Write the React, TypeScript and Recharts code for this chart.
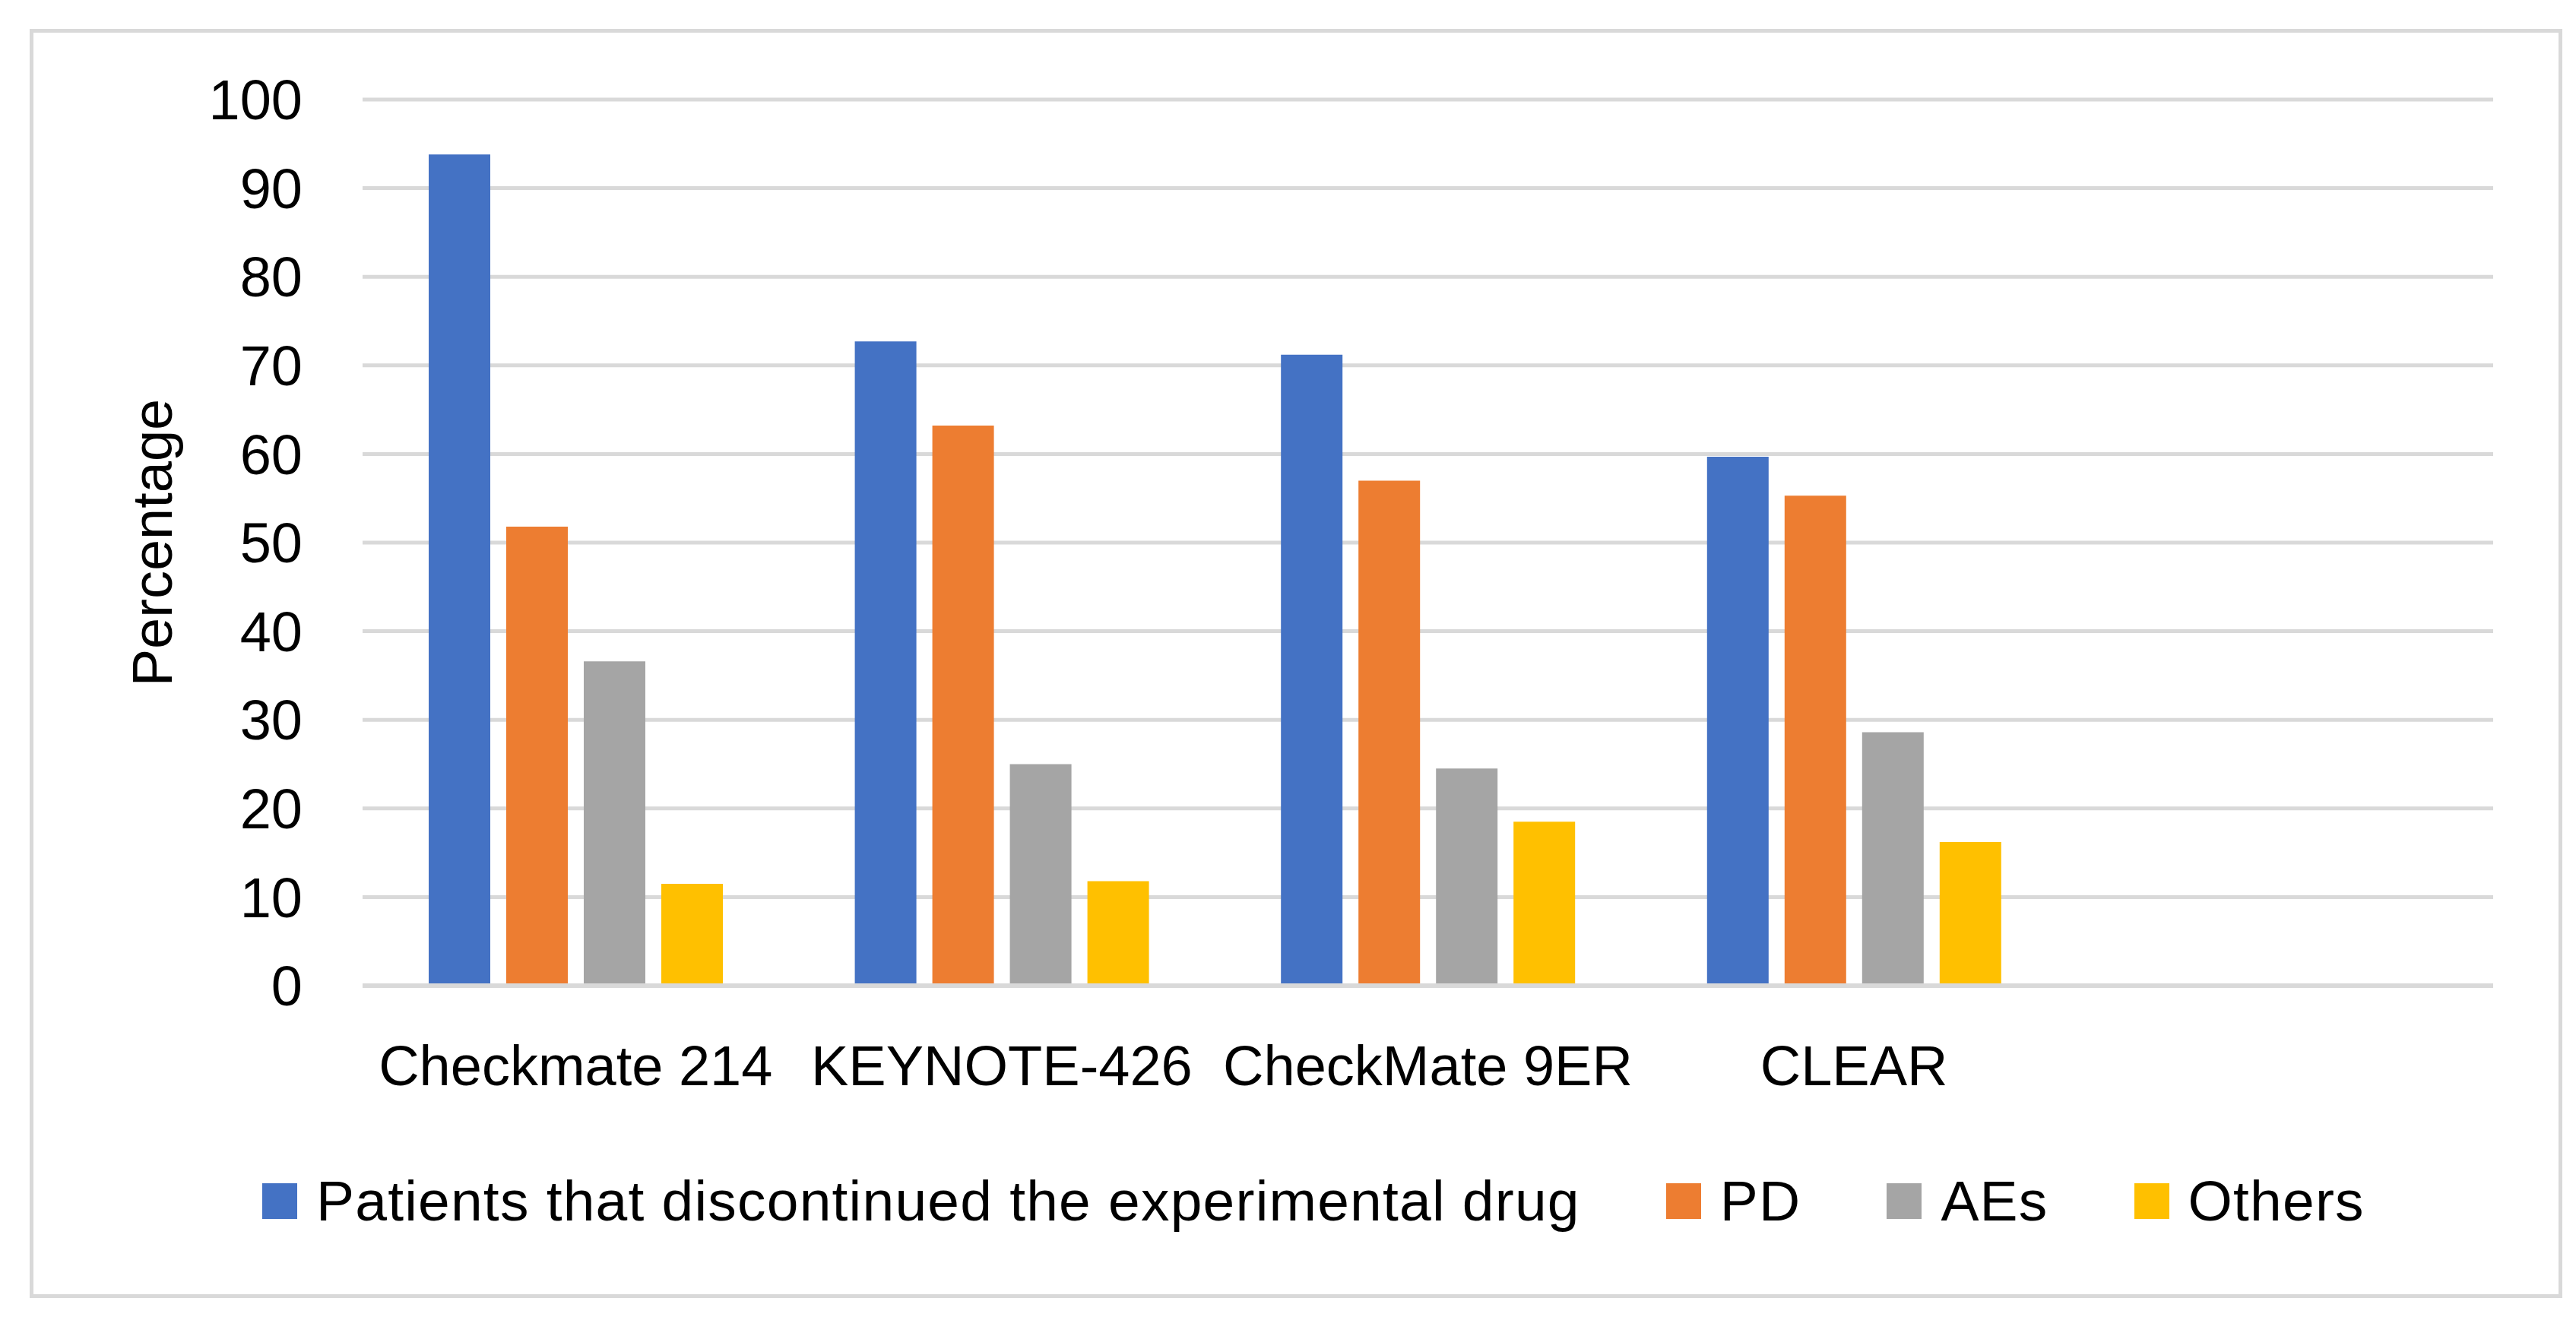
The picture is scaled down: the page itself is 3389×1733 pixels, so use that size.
import React from 'react';
import { BarChart, Bar, XAxis, YAxis, CartesianGrid, Legend } from 'recharts';

const FONT = '"Liberation Sans", Arial, sans-serif';

const categories = ['Checkmate 214', 'KEYNOTE-426', 'CheckMate 9ER', 'CLEAR', ''];
const discontinued = [93.8, 72.7, 71.2, 59.7, null];
const pd = [51.8, 63.2, 57.0, 55.3, null];
const aes = [36.6, 25.0, 24.5, 28.6, null];
const others = [11.5, 11.8, 18.5, 16.2, null];
const yTicks = [0, 10, 20, 30, 40, 50, 60, 70, 80, 90, 100];
const seriesNames = ['Patients that discontinued the experimental drug', 'PD', 'AEs', 'Others'];
const seriesColors = ['#4472C4', '#ED7D31', '#A5A5A5', '#FFC000'];

const data = categories.map((c, i) => ({
  category: c,
  discontinued: discontinued[i],
  pd: pd[i],
  aes: aes[i],
  others: others[i],
}));

const renderLegend = (props: any) => {
  const payload = [...(props.payload || [])].sort(
    (a: any, b: any) => seriesNames.indexOf(a.value) - seriesNames.indexOf(b.value)
  );
  return (
    <div
      style={{
        display: 'flex',
        alignItems: 'center',
        fontFamily: FONT,
        fontSize: 75,
        letterSpacing: 1.2,
        color: '#000',
        whiteSpace: 'nowrap',
        height: 74,
      }}
    >
      {payload.map((p: any, i: number) => (
        <div key={i} style={{ display: 'flex', alignItems: 'center', marginLeft: i === 0 ? 0 : 113 }}>
          <span style={{ width: 46, height: 47, background: p.color, display: 'inline-block', marginRight: 25 }} />
          <span style={{ lineHeight: 1 }}>{p.value}</span>
        </div>
      ))}
    </div>
  );
};

const YLabel = (props: any) => {
  const vb = props.viewBox || {};
  const cx = (vb.x || 0) + 226;
  const cy = (vb.y || 0) + (vb.height || 0) / 2;
  return (
    <text
      x={cx}
      y={cy}
      transform={`rotate(-90 ${cx} ${cy})`}
      textAnchor="middle"
      fontFamily={FONT}
      fontSize={74}
      fill="#000"
    >
      Percentage
    </text>
  );
};

export default function App() {
  return (
    <div style={{ position: 'absolute', left: 0, top: 0, width: 3389, height: 1733, background: '#fff' }}>
      <div
        style={{
          position: 'absolute',
          left: 39,
          top: 38,
          width: 3332,
          height: 1670,
          border: '5px solid #d9d9d9',
          boxSizing: 'border-box',
        }}
      />
      <div style={{ position: 'absolute', left: 0, top: 0 }}>
        <BarChart
          width={3389}
          height={1733}
          data={data}
          margin={{ top: 131, right: 109, left: 0, bottom: 286 }}
          barSize={81}
          barGap={21}
        >
          <CartesianGrid vertical={false} stroke="#d9d9d9" strokeWidth={5} />
          <XAxis
            dataKey="category"
            height={150}
            interval={0}
            tickLine={false}
            tickSize={0}
            tickMargin={78}
            axisLine={{ stroke: '#d9d9d9', strokeWidth: 6 }}
            tick={{ fill: '#000', fontSize: 74, fontFamily: FONT }}
          />
          <YAxis
            width={477}
            domain={[0, 100]}
            ticks={yTicks}
            interval={0}
            tickLine={false}
            axisLine={false}
            tickSize={0}
            tickMargin={79}
            tick={{ fill: '#000', fontSize: 74, fontFamily: FONT }}
            label={<YLabel />}
          />
          <Legend
            layout="horizontal"
            verticalAlign="middle"
            align="center"
            content={renderLegend}
            wrapperStyle={{ left: 345, top: 1543, width: 3000, height: 74 }}
          />
          <Bar dataKey="discontinued" name={seriesNames[0]} fill={seriesColors[0]} isAnimationActive={false} />
          <Bar dataKey="pd" name={seriesNames[1]} fill={seriesColors[1]} isAnimationActive={false} />
          <Bar dataKey="aes" name={seriesNames[2]} fill={seriesColors[2]} isAnimationActive={false} />
          <Bar dataKey="others" name={seriesNames[3]} fill={seriesColors[3]} isAnimationActive={false} />
        </BarChart>
      </div>
    </div>
  );
}
